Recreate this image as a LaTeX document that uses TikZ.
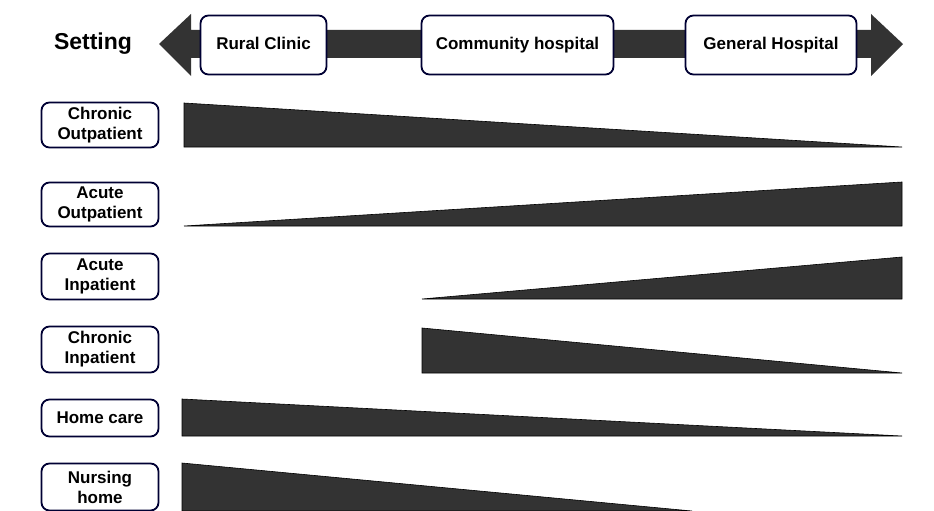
\documentclass[tikz,border=0pt]{standalone}
\usepackage{fontspec}
\setmainfont{Liberation Sans}
\usetikzlibrary{positioning}

\begin{document}
\begin{tikzpicture} [x = 1pt, y = -1pt,
  box/.style = {draw = black!80!blue, line width = 1.8pt, rounded corners = 8pt, fill = white, align = center, font = \bfseries\fontsize{17}{20}\selectfont, inner sep = 0pt},
  setbox/.style = {box, minimum height = 59pt, text height = 12pt, text depth = 4pt},
  rowbox/.style = {box, minimum width = 117pt},
  wedge/.style = {fill = black!80, draw = black, line width = 0.6pt}]
\useasboundingbox (0,0) rectangle (934,511);
\fill[black!80] (159,44) -- (191,14) -- (191,30) -- (871,30) -- (871,14) -- (903,44) -- (871,76) -- (871,58) -- (191,58) -- (191,76) -- cycle;
\node[font = \bfseries\fontsize{23}{27}\selectfont] (set) at (93,44) {Setting};
\node[setbox, minimum width = 126pt] (rural) at (263.5,45) {Rural Clinic};
\node[setbox, minimum width = 192pt] (comm) at (517.5,45) {Community hospital};
\node[setbox, minimum width = 171pt] (gen) at (771,45) {General Hospital};
\node[rowbox, minimum height = 45pt] (co) at (100,125) {Chronic\\Outpatient};
\node[rowbox, minimum height = 44pt] (ao) at (100,204.5) {Acute\\Outpatient};
\node[rowbox, minimum height = 46pt] (ai) at (100,276.5) {Acute\\Inpatient};
\node[rowbox, minimum height = 46pt] (ci) at (100,349.5) {Chronic\\Inpatient};
\node[rowbox, minimum height = 37pt] (hc) at (100,418) {Home care};
\node[rowbox, minimum height = 47pt] (nh) at (100,487) {Nursing\\home};
\filldraw[wedge] (184,103) -- (184,147) -- (902,147) -- cycle;
\filldraw[wedge] (184,226) -- (902,182) -- (902,226) -- cycle;
\filldraw[wedge] (422,299) -- (902,257) -- (902,299) -- cycle;
\filldraw[wedge] (422,328) -- (422,373) -- (902,373) -- cycle;
\filldraw[wedge] (182,399) -- (182,436) -- (902,436) -- cycle;
\filldraw[wedge] (182,463) -- (182,511) -- (692,511) -- cycle;
\end{tikzpicture}
\end{document}
